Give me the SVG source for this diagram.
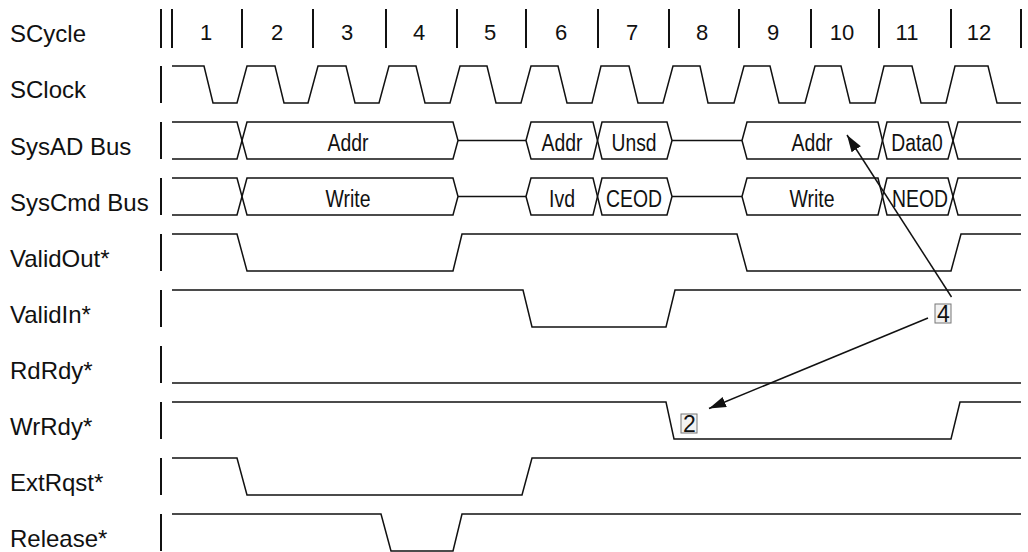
<svg xmlns="http://www.w3.org/2000/svg" width="1028" height="552" viewBox="0 0 1028 552">
<style>
.lbl{font-family:"Liberation Sans",Arial,sans-serif;font-size:24px;fill:#111}
.num{font-family:"Liberation Sans",Arial,sans-serif;font-size:22px;fill:#111;text-anchor:middle}
.bus{font-family:"Liberation Sans",Arial,sans-serif;font-size:23px;fill:#111;text-anchor:middle}
.w{fill:none;stroke:#111;stroke-width:1.5;stroke-linejoin:miter}
.bar{stroke:#111;stroke-width:2}
.box{fill:#f2f2f2;stroke:#777;stroke-width:1}
.dig{font-family:"Liberation Sans",Arial,sans-serif;font-size:23px;fill:#111;text-anchor:middle}
.arr{fill:none;stroke:#111;stroke-width:1.5}
</style>
<defs>
<marker id="ah" markerUnits="userSpaceOnUse" markerWidth="18" markerHeight="12" refX="17" refY="5.5" orient="auto">
<path d="M0,0 L17,5.5 L0,11 z" fill="#111"/>
</marker>
</defs>
<rect width="1028" height="552" fill="#fff"/>

<g id="scycle">
<text class="lbl" x="10" y="42">SCycle</text>
<g class="bar">
<line x1="161" y1="9" x2="161" y2="48"/>
<line x1="172" y1="9" x2="172" y2="48"/>
<line x1="242" y1="9" x2="242" y2="48"/>
<line x1="313" y1="9" x2="313" y2="48"/>
<line x1="386" y1="9" x2="386" y2="48"/>
<line x1="457" y1="9" x2="457" y2="48"/>
<line x1="526" y1="9" x2="526" y2="48"/>
<line x1="598" y1="9" x2="598" y2="48"/>
<line x1="669" y1="9" x2="669" y2="48"/>
<line x1="739" y1="9" x2="739" y2="48"/>
<line x1="811" y1="9" x2="811" y2="48"/>
<line x1="879" y1="9" x2="879" y2="48"/>
<line x1="951" y1="9" x2="951" y2="48"/>
<line x1="1021" y1="9" x2="1021" y2="48"/>
</g>
<text class="num" x="206" y="40">1</text>
<text class="num" x="277" y="40">2</text>
<text class="num" x="347" y="40">3</text>
<text class="num" x="419" y="40">4</text>
<text class="num" x="490" y="40">5</text>
<text class="num" x="561" y="40">6</text>
<text class="num" x="632" y="40">7</text>
<text class="num" x="702" y="40">8</text>
<text class="num" x="773" y="40">9</text>
<text class="num" x="842" y="40">10</text>
<text class="num" x="907" y="40">11</text>
<text class="num" x="979" y="40">12</text>
</g>

<g id="sclock">
<text class="lbl" x="10" y="98">SClock</text>
<line class="bar" x1="161" y1="66" x2="161" y2="103"/>
<path class="w" d="M172,66 H204 L213,103 H237 L247,66 H275 L284,103 H308 L318,66 H346 L355,103 H379 L389,66 H416 L425,103 H450 L460,66 H487 L496,103 H521 L531,66 H558 L567,103 H592 L601,66 H629 L638,103 H663 L673,66 H700 L708,103 H734 L744,66 H770 L779,103 H805 L815,66 H841 L850,103 H875 L884,66 H912 L921,103 H946 L955,66 H988 L997,103 H1021"/>
</g>

<g id="sysad">
<text class="lbl" x="10" y="155">SysAD Bus</text>
<line class="bar" x1="161" y1="122" x2="161" y2="159"/>
<path class="w" d="M172,122 H237 L242,140.5 L237,159 H172"/>
<path class="w" d="M247,122 L242,140.5 L247,159 H453 L458,140.5 L453,122 Z"/>
<path class="w" d="M458,140.5 H526"/>
<path class="w" d="M526,140.5 L531,122 H593 L597.5,140.5 L593,159 H531 Z"/>
<path class="w" d="M602,122 L597.5,140.5 L602,159 H667 L672,140.5 L667,122 Z"/>
<path class="w" d="M672,140.5 H742"/>
<path class="w" d="M742,140.5 L747,122 H878 L882.5,140.5 L878,159 H747 Z"/>
<path class="w" d="M887,122 L882.5,140.5 L887,159 H948 L953,140.5 L948,122 Z"/>
<path class="w" d="M1021,122 H958 L953,140.5 L958,159 H1021"/>
<text class="bus" x="348" y="151" textLength="41" lengthAdjust="spacingAndGlyphs">Addr</text>
<text class="bus" x="562" y="151" textLength="41" lengthAdjust="spacingAndGlyphs">Addr</text>
<text class="bus" x="634" y="151" textLength="45" lengthAdjust="spacingAndGlyphs">Unsd</text>
<text class="bus" x="812" y="151" textLength="41" lengthAdjust="spacingAndGlyphs">Addr</text>
<text class="bus" x="917" y="151" textLength="51.5" lengthAdjust="spacingAndGlyphs">Data0</text>
</g>

<g id="syscmd">
<text class="lbl" x="10" y="211">SysCmd Bus</text>
<line class="bar" x1="161" y1="178" x2="161" y2="215"/>
<path class="w" d="M172,178 H237 L242,196.5 L237,215 H172"/>
<path class="w" d="M247,178 L242,196.5 L247,215 H453 L458,196.5 L453,178 Z"/>
<path class="w" d="M458,196.5 H526"/>
<path class="w" d="M526,196.5 L531,178 H593 L597.5,196.5 L593,215 H531 Z"/>
<path class="w" d="M602,178 L597.5,196.5 L602,215 H667 L672,196.5 L667,178 Z"/>
<path class="w" d="M672,196.5 H742"/>
<path class="w" d="M742,196.5 L747,178 H878 L882.5,196.5 L878,215 H747 Z"/>
<path class="w" d="M887,178 L882.5,196.5 L887,215 H948 L953,196.5 L948,178 Z"/>
<path class="w" d="M1021,178 H958 L953,196.5 L958,215 H1021"/>
<text class="bus" x="348" y="207" textLength="45" lengthAdjust="spacingAndGlyphs">Write</text>
<text class="bus" x="562" y="207" textLength="26" lengthAdjust="spacingAndGlyphs">Ivd</text>
<text class="bus" x="634" y="207" textLength="56" lengthAdjust="spacingAndGlyphs">CEOD</text>
<text class="bus" x="812" y="207" textLength="45" lengthAdjust="spacingAndGlyphs">Write</text>
<text class="bus" x="920" y="207" textLength="56" lengthAdjust="spacingAndGlyphs">NEOD</text>
</g>

<g id="validout">
<text class="lbl" x="10" y="267">ValidOut*</text>
<line class="bar" x1="161" y1="234" x2="161" y2="271"/>
<path class="w" d="M172,234 H237 L247,271 H453 L462,234 H737 L747,271 H951 L961,234 H1021"/>
</g>

<g id="validin">
<text class="lbl" x="10" y="323">ValidIn*</text>
<line class="bar" x1="161" y1="290" x2="161" y2="327"/>
<path class="w" d="M172,290 H523 L532,327 H666 L675,290 H1021"/>
</g>

<g id="rdrdy">
<text class="lbl" x="10" y="379">RdRdy*</text>
<line class="bar" x1="161" y1="346" x2="161" y2="383"/>
<path class="w" d="M172,383 H1021"/>
</g>

<g id="wrrdy">
<text class="lbl" x="10" y="435">WrRdy*</text>
<line class="bar" x1="161" y1="402" x2="161" y2="439"/>
<path class="w" d="M172,402 H666 L674,439 H951 L960,402 H1021"/>
</g>

<g id="extrqst">
<text class="lbl" x="10" y="491">ExtRqst*</text>
<line class="bar" x1="161" y1="458" x2="161" y2="495"/>
<path class="w" d="M172,458 H237 L247,495 H522 L532,458 H1021"/>
</g>

<g id="release">
<text class="lbl" x="10" y="547">Release*</text>
<line class="bar" x1="161" y1="514" x2="161" y2="551"/>
<path class="w" d="M172,514 H381 L391,551 H453 L462,514 H1021"/>
</g>

<g id="note4">
<rect class="box" x="935" y="304" width="16" height="19"/>
<text class="dig" x="943.5" y="321.5">4</text>
</g>
<g id="note2">
<rect class="box" x="681" y="414" width="16" height="19"/>
<text class="dig" x="689.5" y="431.5">2</text>
</g>

<g id="connectors">
<line class="arr" x1="951.5" y1="297" x2="847" y2="135" marker-end="url(#ah)"/>
<line class="arr" x1="928" y1="318" x2="709" y2="408.5" marker-end="url(#ah)"/>
</g>
</svg>
